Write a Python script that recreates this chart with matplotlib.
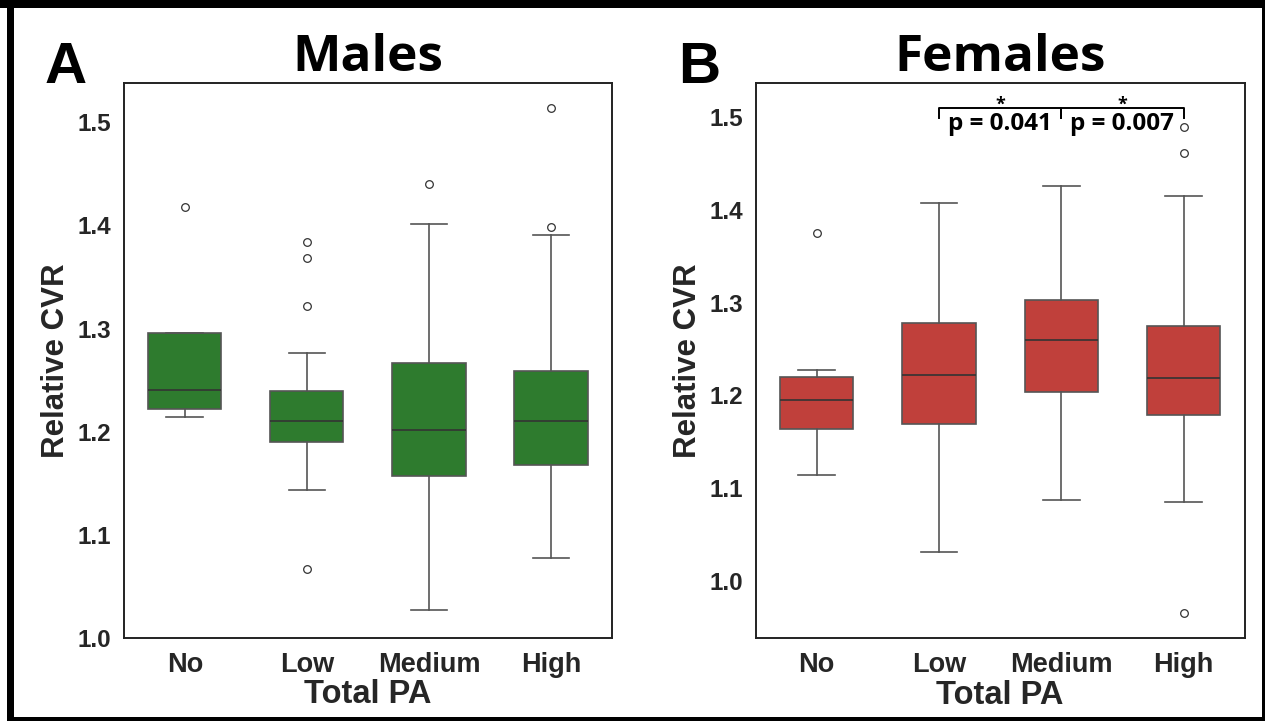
import matplotlib.pyplot as plt
from matplotlib.patches import Rectangle

# categories on the x axis
categories = ["No", "Low", "Medium", "High"]

# Males: box statistics
male_whislo = [1.214, 1.143, 1.027, 1.078]
male_q1 = [1.222, 1.190, 1.157, 1.168]
male_med = [1.240, 1.210, 1.202, 1.210]
male_q3 = [1.296, 1.239, 1.267, 1.259]
male_whishi = [1.296, 1.276, 1.401, 1.391]
male_fliers = [[1.418], [1.384, 1.368, 1.322, 1.067], [1.440], [1.514, 1.398]]

# Females
female_whislo = [1.114, 1.031, 1.087, 1.085]
female_q1 = [1.164, 1.169, 1.204, 1.179]
female_med = [1.195, 1.222, 1.260, 1.219]
female_q3 = [1.220, 1.278, 1.303, 1.275]
female_whishi = [1.227, 1.408, 1.426, 1.415]
female_fliers = [[1.375], [], [], [1.490, 1.461, 0.965]]

# significance brackets (Females)
sig_pairs = [(1, 2), (2, 3)]
sig_labels = ["p = 0.041", "p = 0.007"]

GREEN = "#2e7b2e"
RED = "#c0403b"
LINE = "#555555"
TXT = "#262626"
TICK_FONT = "Liberation Sans"
TITLE_FONT = "Open Sans"


def make_stats(whislo, q1, med, q3, whishi, fliers):
    stats = []
    for i in range(len(categories)):
        stats.append(dict(label=categories[i], whislo=whislo[i], q1=q1[i], med=med[i],
                          q3=q3[i], whishi=whishi[i], fliers=fliers[i]))
    return stats


def draw_panel(ax, stats, color, title, ylim):
    ax.bxp(stats, positions=range(len(categories)), widths=0.6, capwidths=0.3,
           patch_artist=True, showfliers=True,
           boxprops=dict(facecolor=color, edgecolor=LINE, linewidth=1.2),
           whiskerprops=dict(color=LINE, linewidth=1.2),
           capprops=dict(color=LINE, linewidth=1.2),
           medianprops=dict(color="#333333", linewidth=1.2),
           flierprops=dict(marker="o", markerfacecolor="none", markeredgecolor="#333333",
                           markersize=5.5, markeredgewidth=0.9))
    ax.set_xlim(-0.5, len(categories) - 0.5)
    ax.set_ylim(*ylim)
    ax.set_yticks([1.0, 1.1, 1.2, 1.3, 1.4, 1.5])
    ax.set_yticklabels(["1.0", "1.1", "1.2", "1.3", "1.4", "1.5"])
    ax.set_xticks(range(len(categories)))
    ax.set_xticklabels(categories)
    ax.tick_params(axis="y", length=0, pad=9, labelsize=17.5, labelcolor=TXT)
    ax.tick_params(axis="x", length=0, pad=10, labelsize=19.5, labelcolor=TXT)
    for lab in ax.get_xticklabels() + ax.get_yticklabels():
        lab.set_fontfamily(TICK_FONT)
        lab.set_fontweight("bold")
    for sp in ax.spines.values():
        sp.set_color("#222222")
        sp.set_linewidth(1.4)
    ax.set_xlabel("Total PA", fontsize=23.5, fontweight="bold", family=TICK_FONT,
                  color=TXT, labelpad=1)
    ax.set_ylabel("Relative CVR", fontsize=22.5, fontweight="bold", family=TICK_FONT,
                  color=TXT, labelpad=5)
    ax.set_title(title, fontsize=37, fontweight="bold", family=TITLE_FONT, pad=8)


fig = plt.figure(figsize=(12.65, 7.21), dpi=100)
ax_a = fig.add_axes([0.0978, 0.1151, 0.386, 0.7698])
ax_b = fig.add_axes([0.5973, 0.1147, 0.3866, 0.7702])

draw_panel(ax_a, make_stats(male_whislo, male_q1, male_med, male_q3, male_whishi, male_fliers),
           GREEN, "Males", (1.0, 1.538))
draw_panel(ax_b, make_stats(female_whislo, female_q1, female_med, female_q3, female_whishi,
                            female_fliers),
           RED, "Females", (0.938, 1.537))

# brackets with p values
bar_y = 1.510
tick_y = 1.499
for (x1, x2), lab in zip(sig_pairs, sig_labels):
    ax_b.plot([x1, x1, x2, x2], [tick_y, bar_y, bar_y, tick_y], color="black", lw=1.4)
    xm = (x1 + x2) / 2
    ax_b.text(xm, 1.5085, "*", ha="center", va="baseline", fontsize=13,
              fontweight="bold", family=TITLE_FONT)
    ax_b.text(xm, 1.4868, lab, ha="center", va="baseline", fontsize=17.5,
              fontweight="bold", family=TITLE_FONT)

# panel letters
fig.text(45 / 1265, 1 - 83 / 721, "A", fontsize=42, fontweight="bold", family=TICK_FONT,
         va="baseline", ha="left")
fig.text(678 / 1265, 1 - 83 / 721, "B", fontsize=42, fontweight="bold", family=TICK_FONT,
         va="baseline", ha="left")

# thick black frame around the figure
W, H = 1265, 721
for (x0, y0, w, h) in [(7, 0, 7, H), (0, H - 8, W, 8), (W - 3, 0, 3, H), (7, 0, W - 7, 4)]:
    fig.add_artist(Rectangle((x0 / W, y0 / H), w / W, h / H, transform=fig.transFigure,
                             facecolor="black", edgecolor="none"))

fig.savefig("out.png", dpi=100)
